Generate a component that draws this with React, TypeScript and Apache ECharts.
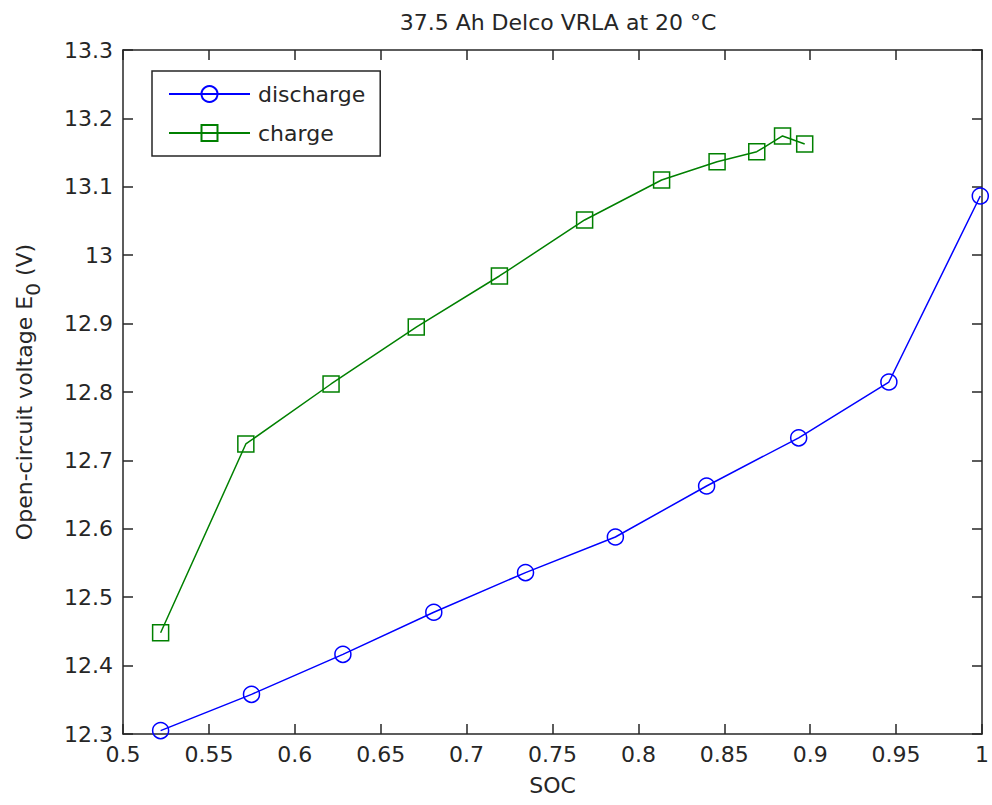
import React, { useEffect, useRef } from "react";
import * as echarts from "echarts";

const titleText = "37.5 Ah Delco VRLA at 20 °C";
const xName = "SOC";

const dischargeSOC = [0.5219, 0.5748, 0.628, 0.6809, 0.7343, 0.7866, 0.8397, 0.8933, 0.9458, 0.999];
const dischargeV = [12.305, 12.358, 12.4165, 12.478, 12.536, 12.588, 12.6626, 12.733, 12.8146, 13.0865];

const chargeSOC = [0.5219, 0.5715, 0.6211, 0.6707, 0.7191, 0.7687, 0.8135, 0.8458, 0.8689, 0.8839, 0.8968];
const chargeV = [12.448, 12.724, 12.8117, 12.895, 12.9696, 13.0515, 13.11, 13.1367, 13.1513, 13.1743, 13.1626];

const FONT = "DejaVu Sans";
const AX = "#262626";

export default function App() {
  const ref = useRef<HTMLDivElement>(null);
  useEffect(() => {
    if (!ref.current) return;
    const chart = echarts.init(ref.current, undefined, { renderer: "svg" });
    const xCommon = {
      type: "value" as const,
      min: 0.5,
      max: 1,
      interval: 0.05,
      splitLine: { show: false },
      axisLine: { show: true, onZero: false, lineStyle: { color: AX, width: 1.5 } },
      axisTick: { show: true, inside: true, length: 10, lineStyle: { color: AX, width: 1.5 } },
    };
    const yCommon = {
      type: "value" as const,
      min: 12.3,
      max: 13.3,
      interval: 0.1,
      splitLine: { show: false },
      axisLine: { show: true, onZero: false, lineStyle: { color: AX, width: 1.5 } },
      axisTick: { show: true, inside: true, length: 10, lineStyle: { color: AX, width: 1.5 } },
    };
    chart.setOption({
      animation: false,
      backgroundColor: "#ffffff",
      title: {
        text: titleText,
        left: 553,
        textAlign: "center",
        top: 6,
        textStyle: { fontFamily: FONT, fontSize: 22, fontWeight: "normal", color: AX },
      },
      grid: { left: 123, top: 50, right: 2, bottom: 71, containLabel: false },
      legend: {
        left: 152,
        top: 71,
        orient: "vertical",
        itemWidth: 81,
        itemHeight: 20,
        itemGap: 17,
        padding: [12, 15, 12, 16],
        borderColor: AX,
        borderWidth: 1.5,
        backgroundColor: "#fff",
        textStyle: { fontFamily: FONT, fontSize: 22, color: AX, lineHeight: 22, padding: [0, 0, 0, 3] },
        data: ["discharge", "charge"],
      },
      xAxis: [
        {
          ...xCommon,
          position: "bottom",
          name: xName,
          nameLocation: "middle",
          nameGap: 40,
          nameTextStyle: { fontFamily: FONT, fontSize: 22, color: AX },
          axisLabel: { fontFamily: FONT, fontSize: 22, color: AX, margin: 9 },
        },
        { ...xCommon, position: "top", axisLabel: { show: false } },
      ],
      yAxis: [
        {
          ...yCommon,
          position: "left",
          name: "{a|Open-circuit voltage E}{s|0}{a| (V)}",
          nameLocation: "middle",
          nameGap: 80,
          nameTextStyle: {
            fontFamily: FONT,
            fontSize: 22,
            color: AX,
            rich: {
              a: { fontFamily: FONT, fontSize: 22, color: AX, lineHeight: 30, verticalAlign: "top" },
              s: { fontFamily: FONT, fontSize: 20, color: AX, lineHeight: 30, verticalAlign: "bottom" , padding: [10, 0, 0, 0] },
            },
          },
          axisLabel: { fontFamily: FONT, fontSize: 22, color: AX, margin: 10 },
        },
        { ...yCommon, position: "right", axisLabel: { show: false } },
      ],
      series: [
        {
          name: "discharge",
          type: "line",
          data: dischargeSOC.map((x, i) => [x, dischargeV[i]]),
          symbol: "circle",
          symbolSize: 16,
          lineStyle: { color: "#0000ff", width: 1.5 },
          itemStyle: { color: "rgba(0,0,0,0)", borderColor: "#0000ff", borderWidth: 1.5 },
        },
        {
          name: "charge",
          type: "line",
          data: chargeSOC.map((x, i) => [x, chargeV[i]]),
          symbol: "rect",
          symbolSize: 16,
          lineStyle: { color: "#008000", width: 1.5 },
          itemStyle: { color: "rgba(0,0,0,0)", borderColor: "#008000", borderWidth: 1.5 },
        },
      ],
    });
    return () => chart.dispose();
  }, []);
  return <div ref={ref} style={{ width: 992, height: 805, position: "absolute", left: 0, top: 0 }} />;
}
